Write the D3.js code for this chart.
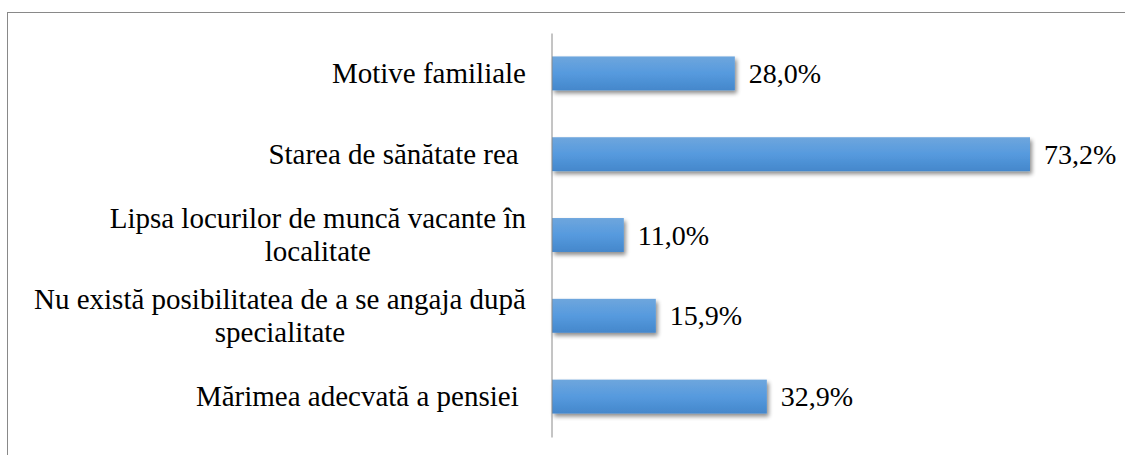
<!DOCTYPE html>
<html>
<head>
<meta charset="utf-8">
<script src="https://cdn.jsdelivr.net/npm/d3@7"></script>
</head>
<body style="margin:0">
<svg id="chart" width="1125" height="455" style="font-family: 'Liberation Serif'"></svg>
<script>
// Data
const categories = [
  ["Motive familiale"],
  ["Starea de sănătate rea "],
  ["Lipsa locurilor de muncă vacante în", "localitate"],
  ["Nu există posibilitatea de a se angaja după", "specialitate"],
  ["Mărimea adecvată a pensiei "]
];
const values = [28.0, 73.2, 11.0, 15.9, 32.9];
const valueLabels = ["28,0%", "73,2%", "11,0%", "15,9%", "32,9%"];

const svg = d3.select("#chart");
const W = 1125, H = 455;
const catFontSize = "29px";
const valFontSize = "28px";
const fontFamily = '"Liberation Serif"';

// Frame (chart area border)
svg.append("rect")
  .attr("x", 7.5).attr("y", 12.5)
  .attr("width", W + 20).attr("height", H + 20)
  .attr("fill", "#fff").attr("stroke", "#898989").attr("stroke-width", 1);

const defs = svg.append("defs");
const grad = defs.append("linearGradient").attr("id", "barGrad")
  .attr("x1", 0).attr("y1", 0).attr("x2", 0).attr("y2", 1);
grad.append("stop").attr("offset", "0%").attr("stop-color", "#6ea6dd");
grad.append("stop").attr("offset", "50%").attr("stop-color", "#569ade");
grad.append("stop").attr("offset", "100%").attr("stop-color", "#4487cb");

const shadow = defs.append("filter").attr("id", "shadow")
  .attr("x", "-5%").attr("y", "-30%").attr("width", "115%").attr("height", "180%");
shadow.append("feGaussianBlur").attr("in", "SourceAlpha").attr("stdDeviation", 2.2).attr("result", "b");
shadow.append("feOffset").attr("in", "b").attr("dx", 2).attr("dy", 3).attr("result", "o");
shadow.append("feComponentTransfer").attr("in", "o").attr("result", "s")
  .append("feFuncA").attr("type", "linear").attr("slope", 0.45);
const merge = shadow.append("feMerge");
merge.append("feMergeNode").attr("in", "s");
merge.append("feMergeNode").attr("in", "SourceGraphic");

const x = d3.scaleLinear().domain([0, 80]).range([552, 552 + 6.53 * 80]);
const y = d3.scaleBand().domain(d3.range(categories.length))
  .range([33, 437]).paddingInner(0.58).paddingOuter(0.29);

// Bars
svg.append("g").selectAll("rect")
  .data(values)
  .join("rect")
  .attr("x", x(0))
  .attr("y", (d, i) => y(i))
  .attr("width", d => x(d) - x(0))
  .attr("height", y.bandwidth())
  .attr("fill", "url(#barGrad)")
  .attr("filter", "url(#shadow)");

// Axis line
const yAxis = d3.axisLeft(y).tickSize(0).tickFormat("");
const axisG = svg.append("g").attr("transform", `translate(${x(0) - 0.5},0)`).call(yAxis);
axisG.attr("font-family", null).attr("font-size", null);
axisG.select(".domain").attr("stroke", "#8a8a8a").attr("stroke-width", 1);

// Value labels
valueLabels.forEach((lbl, i) => {
  svg.append("text")
    .attr("x", x(values[i]) + 14)
    .attr("y", y(i) + y.bandwidth() / 2 + 9.5)
    .style("font-family", fontFamily)
    .style("font-size", valFontSize)
    .text(lbl);
});

// Category labels
const rightEdge = 526;
const lineH = 33.3;
categories.forEach((lines, i) => {
  const cy = y(i) + y.bandwidth() / 2 + 9.8;
  const texts = lines.map((ln, j) => svg.append("text")
    .style("font-family", fontFamily)
    .style("font-size", catFontSize)
    .style("white-space", "pre")
    .attr("text-anchor", "middle")
    .attr("y", cy + (j - (lines.length - 1) / 2) * lineH)
    .text(ln));
  const maxW = d3.max(texts, t => t.node().getComputedTextLength());
  texts.forEach(t => t.attr("x", rightEdge - maxW / 2));
});
</script>
</body>
</html>
